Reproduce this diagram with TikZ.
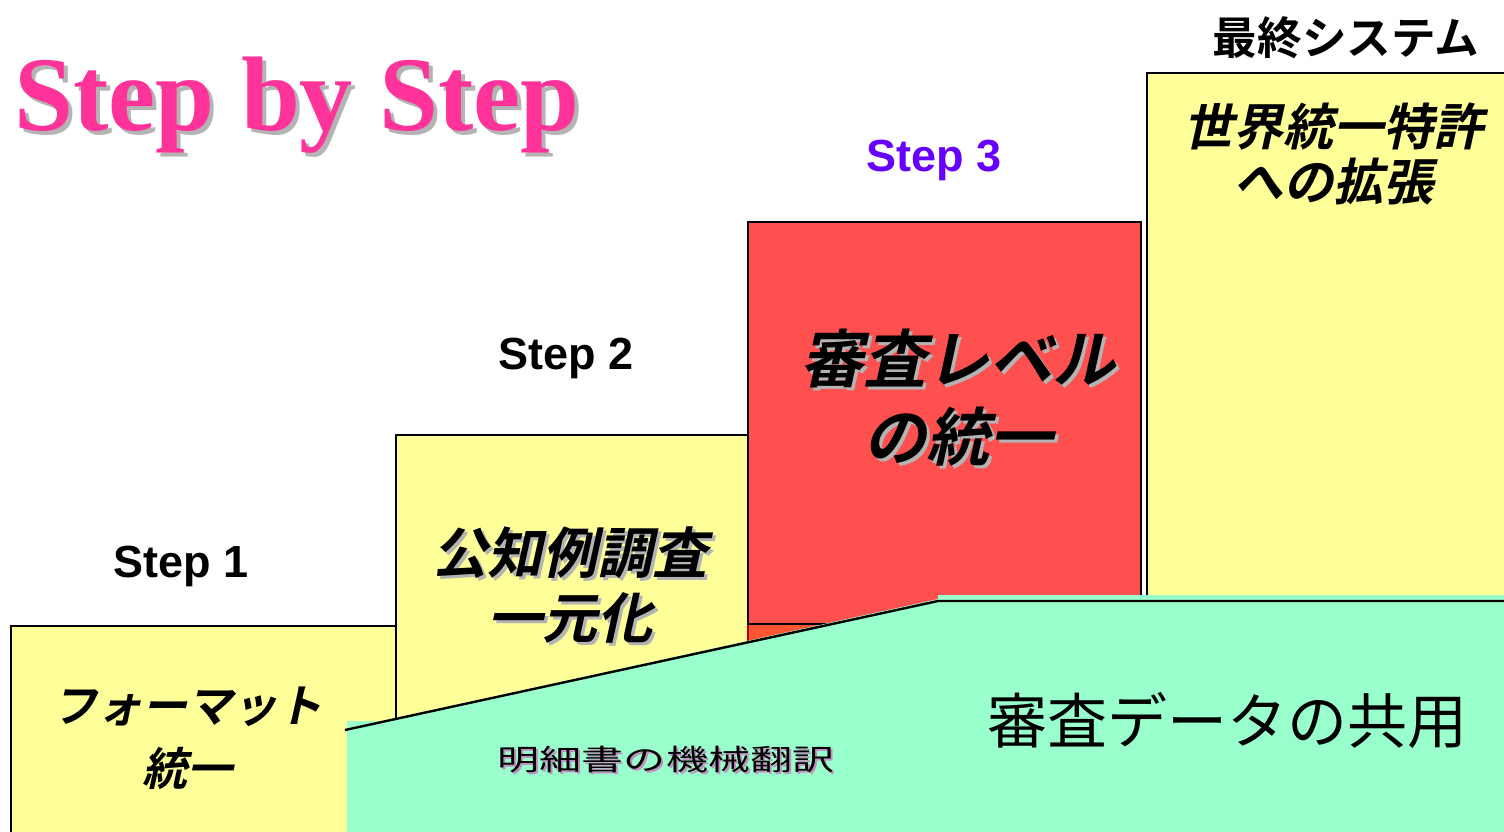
\documentclass[tikz,border=0pt]{standalone}
\usepackage{fontspec}
\setmainfont{Liberation Serif}
\newfontfamily\arialb{Liberation Sans}
\newfontfamily\jp{Noto Sans CJK JP}
\newfontfamily\jpb{Noto Sans CJK JP Bold}
\newfontfamily\jpbi[FakeSlant=0.22]{Noto Sans CJK JP Bold}
\definecolor{boxyellow}{HTML}{FFFF99}
\definecolor{boxred}{HTML}{FF5050}
\definecolor{boxorange}{HTML}{FF5533}
\definecolor{boxgreen}{HTML}{99FFCC}
\definecolor{titlepink}{HTML}{FF3399}
\definecolor{steppurple}{HTML}{6600FF}
\definecolor{shadowgray}{HTML}{B4B4B4}
\begin{document}
\begin{tikzpicture}[x=0.5pt,y=-0.5pt,
  stepbox/.style={draw=black,line width=0.8pt},
  txt/.style={inner sep=0pt,outer sep=0pt},
  steplabel/.style={txt,anchor=base,font=\arialb\bfseries\fontsize{22.5}{27}\selectfont},
  shadowtxt/.style={text=shadowgray}]
\useasboundingbox (0,0) rectangle (1504,831);
\clip (0,0) rectangle (1504,831);
% boxes
\path[stepbox,fill=boxyellow] (11,626) rectangle (396,840);
\path[stepbox,fill=boxyellow] (396,435) rectangle (748,840);
\path[fill=boxorange,draw=red!70!black,line width=0.6pt] (748,624) rectangle (1141,840);
\path[stepbox,fill=boxred] (748,222) rectangle (1141,624);
\path[stepbox,fill=boxyellow] (1147,73) rectangle (1515,840);
% green band
\coordinate (gl) at (345,730);
\coordinate (gm) at (938,601);
\coordinate (gr) at (1515,601);
\fill[boxgreen] (347,840) -- (347,721) -- (382,721) -- (938,599) -- (938,595) -- (1515,595) -- (1515,840) -- cycle;
\draw[line width=1.2pt] (gl) -- (gm) -- (gr);
% title
\node[txt,anchor=base,text=shadowgray,font=\bfseries\fontsize{53}{60}\selectfont] (titleS) at (301,134) {Step by Step};
\node[txt,anchor=base,text=titlepink,font=\bfseries\fontsize{53}{60}\selectfont] (title) at (297,130) {Step by Step};
% step labels
\node[steplabel] (s1) at (181,577) {Step 1};
\node[steplabel] (s2) at (566,369) {Step 2};
\node[steplabel,text=steppurple] (s3) at (934,171) {Step 3};
\node[txt,font=\jpb\fontsize{22.3}{26}\selectfont] (final) at (1346,38) {最終システム};
% box 1 text
\node[txt,font=\jpbi\fontsize{22.5}{26}\selectfont] (b1a) at (187,707) {フォーマット};
\node[txt,font=\jpbi\fontsize{22.5}{26}\selectfont] (b1b) at (187,768) {統一};
% box 2 text
\node[txt,shadowtxt,font=\jpbi\fontsize{27.5}{32}\selectfont] (b2aS) at (573,556) {公知例調査};
\node[txt,font=\jpbi\fontsize{27.5}{32}\selectfont] (b2a) at (570,553) {公知例調査};
\node[txt,shadowtxt,font=\jpbi\fontsize{27.5}{32}\selectfont] (b2bS) at (573,621) {一元化};
\node[txt,font=\jpbi\fontsize{27.5}{32}\selectfont] (b2b) at (570,618) {一元化};
% box 3 text
\node[txt,shadowtxt,font=\jpbi\fontsize{31.5}{36}\selectfont] (b3aS) at (961,361) {審査レベル};
\node[txt,font=\jpbi\fontsize{31.5}{36}\selectfont] (b3a) at (958,358) {審査レベル};
\node[txt,shadowtxt,font=\jpbi\fontsize{31.5}{36}\selectfont] (b3bS) at (961,440) {の統一};
\node[txt,font=\jpbi\fontsize{31.5}{36}\selectfont] (b3b) at (958,437) {の統一};
% box 4 text
\node[txt,font=\jpbi\fontsize{25}{30}\selectfont] (b4a) at (1333,127) {世界統一特許};
\node[txt,font=\jpbi\fontsize{25}{30}\selectfont] (b4b) at (1333,182) {への拡張};
% green texts
\node[txt,font=\jp\fontsize{30}{34}\selectfont] (share) at (1227,720) {審査データの共用};
\node[txt,text=shadowgray!80!magenta,xscale=1.45,font=\jp\fontsize{14.5}{17}\selectfont] (transS) at (668,762) {明細書の機械翻訳};
\node[txt,xscale=1.45,font=\jp\fontsize{14.5}{17}\selectfont] (trans) at (666,760) {明細書の機械翻訳};
\end{tikzpicture}
\end{document}
